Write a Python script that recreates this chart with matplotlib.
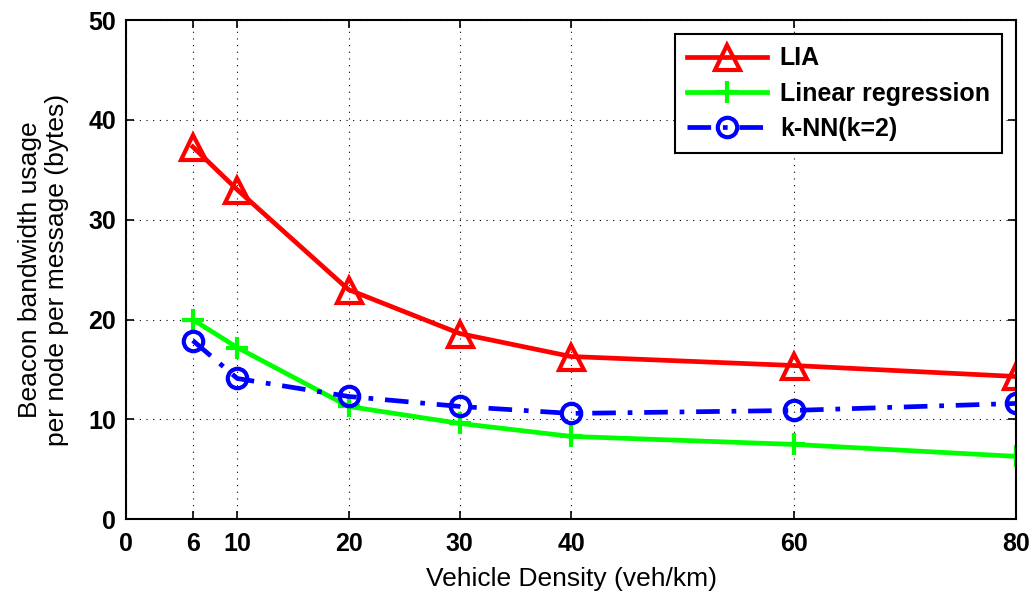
import matplotlib
matplotlib.use('Agg')
from matplotlib import pyplot as plt
import numpy as np

plt.rcParams['font.family'] = ['Liberation Sans', 'DejaVu Sans']

density = [6, 10, 20, 30, 40, 60, 80]
lia = [37.3, 33.0, 23.0, 18.6, 16.3, 15.4, 14.3]
linreg = [20.0, 17.2, 11.3, 9.6, 8.3, 7.5, 6.3]
knn = [17.9, 14.1, 12.3, 11.3, 10.6, 10.9, 11.6]

xticks = [0, 6, 10, 20, 30, 40, 60, 80]

fig = plt.figure(figsize=(10.34, 5.94), dpi=100)
ax = fig.add_axes([0.1219, 0.1258, 0.8607, 0.8405])

ax.plot(density, lia, color='red', linestyle='-', linewidth=3.4, marker='^',
        markersize=18, markerfacecolor='none', markeredgewidth=3.0, label='LIA')
ax.plot(density, linreg, color='#00ff00', linestyle='-', linewidth=3.4, marker='+',
        markersize=16, markeredgewidth=3.0, label='Linear regression')
ax.plot(density, knn, color='blue', linestyle=(0, (5, 2.5, 1, 2.5)), linewidth=3.4, marker='o',
        markersize=14, markerfacecolor='none', markeredgewidth=3.0, label='k-NN(k=2)')

ax.set_xlim(0, 80)
ax.set_ylim(0, 50)
ax.set_xticks(xticks)
ax.set_yticks(range(0, 51, 10))
ax.grid(True, color='black', linestyle=(0, (1, 5)), linewidth=0.8)
ax.tick_params(axis='both', direction='in', top=True, right=True, length=6, width=1.2,
               labelsize=18)
ax.tick_params(axis='x', pad=9)
ax.tick_params(axis='y', pad=7)
for lbl in ax.get_xticklabels() + ax.get_yticklabels():
    lbl.set_fontweight('bold')
for s in ax.spines.values():
    s.set_linewidth(1.5)

ax.set_xlabel('Vehicle Density (veh/km)', fontsize=19, labelpad=8)
ax.set_ylabel('Beacon bandwidth usage\nper node per message (bytes)', fontsize=19,
              labelpad=14, linespacing=1.15)

leg = ax.legend(loc='upper right', fancybox=False, edgecolor='black', framealpha=1,
                prop={'size': 18, 'weight': 'bold'}, handlelength=3.2, borderaxespad=0.55,
                labelspacing=0.45, handletextpad=0.5, borderpad=0.5)
leg.get_frame().set_linewidth(1.5)

plt.savefig('out.png', dpi=100)
